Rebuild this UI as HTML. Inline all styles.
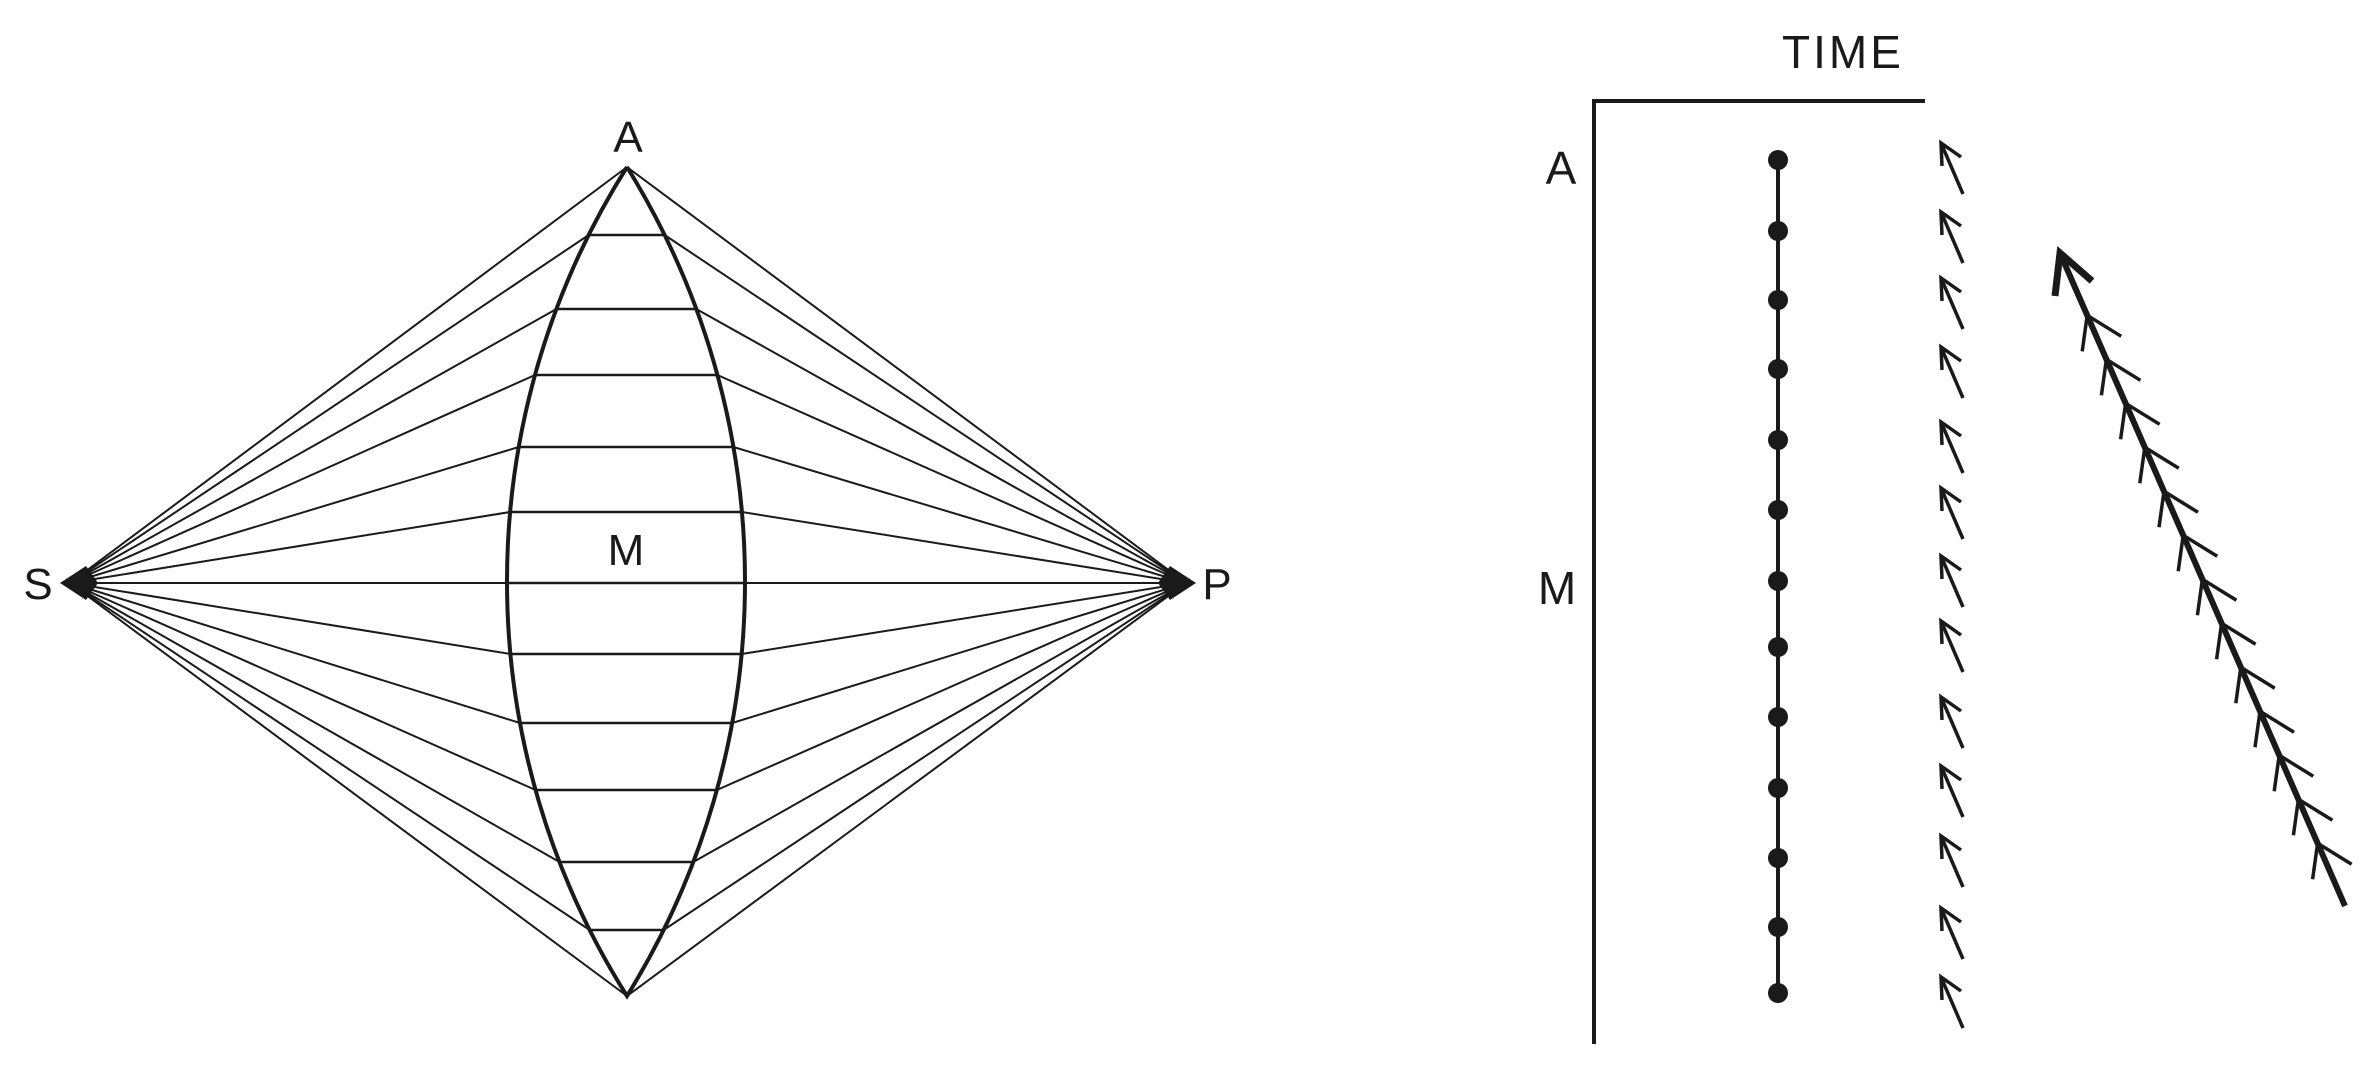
<!DOCTYPE html>
<html><head><meta charset="utf-8"><style>
html,body{margin:0;padding:0;background:#fff;}
svg{display:block;}
text{font-family:"Liberation Sans","DejaVu Sans",sans-serif;fill:#1a1a1a;}
</style></head><body>
<svg id="s" width="2364" height="1070" viewBox="0 0 2364 1070" xmlns="http://www.w3.org/2000/svg">
<rect width="2364" height="1070" fill="#fff"/>
<g id="left" stroke="#1a1a1a" fill="none"></g>
<g id="right" stroke="#1a1a1a" fill="none"></g>
<text x="628" y="152" font-size="44" text-anchor="middle">A</text>
<text x="626" y="565" font-size="44" text-anchor="middle">M</text>
<text x="38" y="599" font-size="44" text-anchor="middle">S</text>
<text x="1217" y="599" font-size="44" text-anchor="middle">P</text>
<text x="1843" y="68" font-size="46" text-anchor="middle" letter-spacing="3">TIME</text>
<text x="1561" y="184" font-size="46" text-anchor="middle">A</text>
<text x="1557" y="604" font-size="46" text-anchor="middle">M</text>
</svg>
<script>
var NS="http://www.w3.org/2000/svg";
function el(p,t,a){var e=document.createElementNS(NS,t);for(var k in a)e.setAttribute(k,a[k]);p.appendChild(e);return e;}
var L=document.getElementById('left'),R=document.getElementById('right');
var S=[70,583],P=[1186,583],A=[627,167],B=[627,996];
var cy=(A[1]+B[1])/2,h=(B[1]-A[1])/2;
var sL=627-507,sR=745-627;
var RL=(h*h+sL*sL)/(2*sL),RR=(h*h+sR*sR)/(2*sR);
var cxL=507+RL,cxR=745-RR;
function xl(y){var d=y-cy;return cxL-Math.sqrt(RL*RL-d*d);}
function xr(y){var d=y-cy;return cxR+Math.sqrt(RR*RR-d*d);}
var ys=[235,309,375,447,512,583,654,723,790,862,930];
el(L,'line',{x1:S[0],y1:S[1],x2:A[0],y2:A[1],'stroke-width':2});
el(L,'line',{x1:S[0],y1:S[1],x2:B[0],y2:B[1],'stroke-width':2});
el(L,'line',{x1:P[0],y1:P[1],x2:A[0],y2:A[1],'stroke-width':2});
el(L,'line',{x1:P[0],y1:P[1],x2:B[0],y2:B[1],'stroke-width':2});
for(var i=0;i<ys.length;i++){
 var a=xl(ys[i]),b=xr(ys[i]);
 el(L,'line',{x1:S[0],y1:S[1],x2:a,y2:ys[i],'stroke-width':2});
 el(L,'line',{x1:P[0],y1:P[1],x2:b,y2:ys[i],'stroke-width':2});
 el(L,'line',{x1:a,y1:ys[i],x2:b,y2:ys[i],'stroke-width':2.5});
}
el(L,'path',{d:"M"+A[0]+","+A[1]+" A"+RL+","+RL+" 0 0 0 "+B[0]+","+B[1]+" A"+RR+","+RR+" 0 0 0 "+A[0]+","+A[1],'stroke-width':4,'stroke-linejoin':'miter'});
el(L,'polygon',{points:"60,583 86,566 98,583 86,600",fill:'#1a1a1a',stroke:'none'});
el(L,'polygon',{points:"1196,583 1170,566 1158,583 1170,600",fill:'#1a1a1a',stroke:'none'});
// right
el(R,'polyline',{points:"1594,1044 1594,101 1925,101",'stroke-width':4});
el(R,'line',{x1:1778,y1:160,x2:1778,y2:993,'stroke-width':4});
var dy=[160,231,300,369,440,510,581,647,717,788,858,927,993];
dy.forEach(function(y){el(R,'circle',{cx:1778,cy:y,r:10,fill:'#1a1a1a',stroke:'none'});});
var hy=[143,212,278,347,422,488,556,621,697,766,836,908,977];
hy.forEach(function(y){
 var hx=1941;
 el(R,'line',{x1:hx,y1:y,x2:hx+22,y2:y+51,'stroke-width':3.5});
 el(R,'polyline',{points:(hx+1)+","+(y+23)+" "+hx+","+y+" "+(hx+20)+","+(y+14),'stroke-width':3.5});
});
var H=[2060,253],T=[2345,906];
el(R,'line',{x1:H[0],y1:H[1],x2:T[0],y2:T[1],'stroke-width':6});
el(R,'polyline',{points:"2055,296 2060,253 2092,281",'stroke-width':7});
var dx=T[0]-H[0],dyy=T[1]-H[1],len=Math.sqrt(dx*dx+dyy*dyy),ux=dx/len,uy=dyy/len;
for(var k=1;k<=14;k++){
 var t=20+k*48; if(t>len-25)break;
 var px=H[0]+ux*t,py=H[1]+uy*t;
 el(R,'line',{x1:px,y1:py,x2:px+34,y2:py+21,'stroke-width':3.5});
 el(R,'line',{x1:px,y1:py,x2:px-5,y2:py+36,'stroke-width':3.5});
}
</script>
</body></html>
